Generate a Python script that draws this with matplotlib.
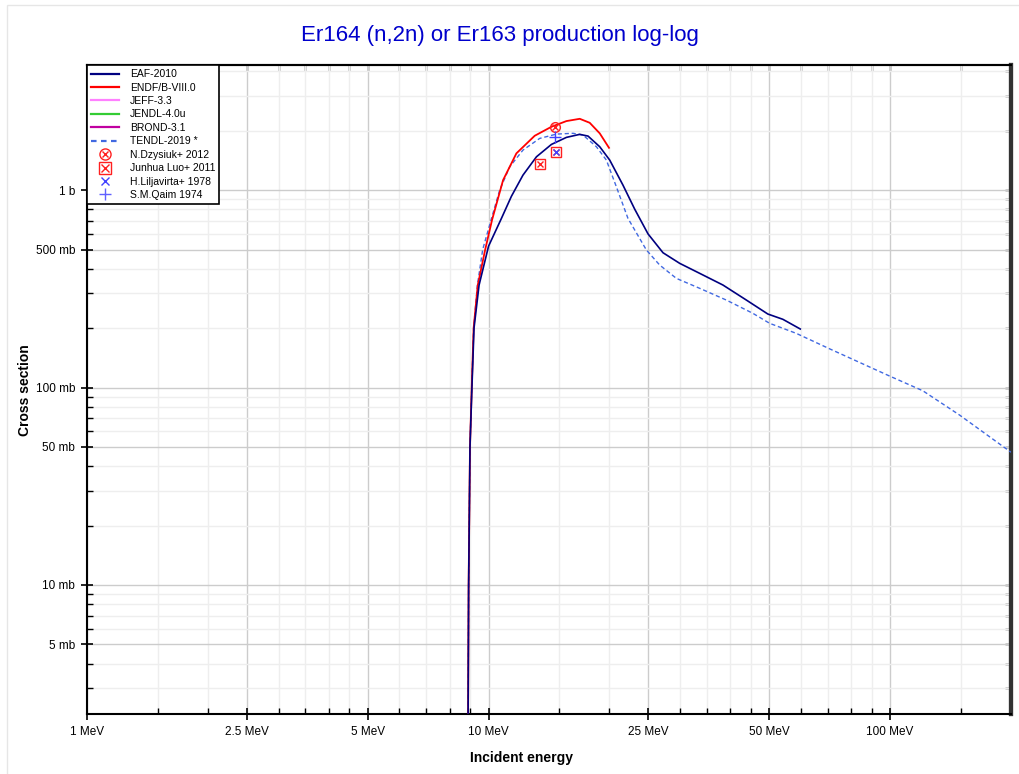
import matplotlib
matplotlib.use('Agg')
from matplotlib import pyplot as plt
from matplotlib.lines import Line2D
from matplotlib.legend_handler import HandlerTuple
from matplotlib.patches import Rectangle
from matplotlib.ticker import FixedLocator, FixedFormatter, NullFormatter

plt.rcParams['font.family'] = ['Liberation Sans', 'DejaVu Sans']

# EAF-2010 (energy MeV, cross section b)
eaf_e = [8.88, 8.92, 8.99, 9.09, 9.2, 9.47, 10.0, 10.77, 11.40, 12.18, 13.16, 14.34, 15.63, 16.87,
         17.69, 18.92, 20.03, 21.61, 23.12, 24.95, 27.19, 29.92, 33.55, 38.34, 43.85, 49.6, 54.07, 59.75]
eaf_s = [0.001, 0.010, 0.050, 0.100, 0.2, 0.33, 0.52, 0.72, 0.93, 1.19, 1.474, 1.703, 1.849, 1.915,
         1.877, 1.657, 1.419, 1.060, 0.80, 0.60, 0.4815, 0.4255, 0.3787, 0.3304, 0.2773, 0.2356, 0.2215, 0.1978]

# ENDF/B-VIII.0
endf_e = [8.88, 8.92, 8.99, 9.08, 9.18, 9.4, 9.81, 10.2, 10.87, 11.73, 13.03, 14.34, 15.63, 16.87,
          17.86, 18.92, 19.95]
endf_s = [0.001, 0.010, 0.050, 0.100, 0.2, 0.33, 0.5, 0.705, 1.124, 1.534, 1.884, 2.092, 2.236, 2.296,
          2.192, 1.937, 1.637]

# TENDL-2019
tendl_e = [8.88, 8.92, 8.99, 9.08, 9.18, 9.38, 9.67, 10.17, 10.66, 11.29, 12.18, 13.41, 14.76, 16.23,
           17.19, 18.56, 19.65, 20.81, 22.24, 24.72, 26.68, 29.36, 33.55, 39.09, 45.53, 50.11, 58.4,
           70.68, 74.8, 99.7, 120.6, 148.8, 200.0]
tendl_s = [0.001, 0.010, 0.050, 0.100, 0.2, 0.33, 0.5, 0.719, 1.0, 1.312, 1.594, 1.827, 1.921, 1.939,
           1.899, 1.657, 1.419, 1.039, 0.719, 0.497, 0.417, 0.357, 0.318, 0.2773, 0.2375, 0.2114, 0.188,
           0.157, 0.149, 0.1143, 0.0963, 0.0726, 0.0470]

# experiments
dzysiuk_e = [14.67]
dzysiuk_s = [2.077]
luo_e = [13.46, 14.76]
luo_s = [1.354, 1.552]
liljavirta_e = [14.76]
liljavirta_s = [1.56]
qaim_e = [14.64]
qaim_s = [1.862]

xticks = [1, 2.5, 5, 10, 25, 50, 100]
xlabels = ['1 MeV', '2.5 MeV', '5 MeV', '10 MeV', '25 MeV', '50 MeV', '100 MeV']
xminor = [1.5, 2, 3, 3.5, 4, 4.5, 6, 7, 8, 9, 15, 20, 30, 35, 40, 45, 60, 70, 80, 90, 150]
yticks = [0.005, 0.01, 0.05, 0.1, 0.5, 1]
ylabels = ['5 mb', '10 mb', '50 mb', '100 mb', '500 mb', '1 b']
yminor = [m * d for d in [0.001, 0.01, 0.1, 1] for m in [2, 3, 4, 6, 7, 8, 9]]

fig = plt.figure(figsize=(10.2, 7.74), dpi=100)
fig.patches.append(Rectangle((7 / 1020, -0.1), 1.2, 1.1 - 5 / 774, transform=fig.transFigure,
                             fill=False, edgecolor='#e6e6e6', linewidth=1))
ax = fig.add_axes([87 / 1020, 60 / 774, 924 / 1020, 649 / 774])

ax.set_xscale('log')
ax.set_yscale('log')
ax.set_xlim(1, 200)
ax.set_ylim(2.22e-3, 4.3)

ax.xaxis.set_major_locator(FixedLocator(xticks))
ax.xaxis.set_major_formatter(FixedFormatter(xlabels))
ax.xaxis.set_minor_locator(FixedLocator(xminor))
ax.xaxis.set_minor_formatter(NullFormatter())
ax.yaxis.set_major_locator(FixedLocator(yticks))
ax.yaxis.set_major_formatter(FixedFormatter(ylabels))
ax.yaxis.set_minor_locator(FixedLocator(yminor))
ax.yaxis.set_minor_formatter(NullFormatter())

ax.grid(which='major', color='#cccccc', linewidth=1)
ax.grid(which='minor', color='#eeeeee', linewidth=1)
ax.set_axisbelow(True)

ax.tick_params(which='major', direction='inout', length=9, width=1.2, labelsize=8.5, pad=4)
ax.tick_params(which='minor', direction='in', length=4, width=1)
for s in ['left', 'bottom', 'top']:
    ax.spines[s].set_linewidth(1.5)
ax.spines['right'].set_linewidth(3)
ax.spines['right'].set_color('#333333')

# ticks on top and right, pointing inward only
top = ax.secondary_xaxis('top')
top.xaxis.set_major_locator(FixedLocator(xticks))
top.xaxis.set_minor_locator(FixedLocator(xminor))
top.xaxis.set_major_formatter(NullFormatter())
top.xaxis.set_minor_formatter(NullFormatter())
top.tick_params(which='both', direction='in', length=4, width=1)
top.spines['top'].set_linewidth(1.5)
right = ax.secondary_yaxis('right')
right.yaxis.set_major_locator(FixedLocator(yticks))
right.yaxis.set_minor_locator(FixedLocator(yminor))
right.yaxis.set_major_formatter(NullFormatter())
right.yaxis.set_minor_formatter(NullFormatter())
right.tick_params(which='both', direction='in', length=4, width=1)
right.spines['right'].set_linewidth(3)
right.spines['right'].set_color('#333333')

ax.plot(tendl_e, tendl_s, color='#4169e1', linewidth=1, linestyle=(0, (3, 2)), zorder=3)
ax.plot(endf_e, endf_s, color='#ff0000', linewidth=1.3, zorder=4)
ax.plot(eaf_e, eaf_s, color='#000080', linewidth=1.2, zorder=5)

ax.plot(dzysiuk_e, dzysiuk_s, 'o', mfc='none', mec='#ff2020', ms=7, mew=1, zorder=6)
ax.plot(dzysiuk_e, dzysiuk_s, 'x', color='#ff2020', ms=4.5, mew=1, zorder=6)
ax.plot(luo_e, luo_s, 's', mfc='none', mec='#ff2020', ms=6.5, mew=1, zorder=6)
ax.plot(luo_e, luo_s, 'x', color='#ff2020', ms=5, mew=1, zorder=6)
ax.plot(liljavirta_e, liljavirta_s, 'x', color='#4040ff', ms=5, mew=1, zorder=7)
ax.plot(qaim_e, qaim_s, '+', color='#4040ff', ms=8, mew=1, zorder=7)

handles = [
    Line2D([], [], color='#000080', lw=1.6),
    Line2D([], [], color='#ff0000', lw=1.6),
    Line2D([], [], color='#ff80ff', lw=1.6),
    Line2D([], [], color='#33cc33', lw=1.6),
    Line2D([], [], color='#c000a0', lw=1.6),
    Line2D([], [], color='#4169e1', lw=1.6, linestyle=(0, (2.5, 2))),
    (Line2D([], [], marker='o', ls='none', mfc='none', mec='#ff2020', ms=8, mew=1),
     Line2D([], [], marker='x', ls='none', color='#ff2020', ms=5, mew=1)),
    (Line2D([], [], marker='s', ls='none', mfc='none', mec='#ff2020', ms=8, mew=1),
     Line2D([], [], marker='x', ls='none', color='#ff2020', ms=6, mew=1)),
    Line2D([], [], marker='x', ls='none', color='#4040ff', ms=6, mew=1),
    Line2D([], [], marker='+', ls='none', color='#6060ff', ms=9, mew=1),
]
labels = ['EAF-2010', 'ENDF/B-VIII.0', 'JEFF-3.3', 'JENDL-4.0u', 'BROND-3.1', 'TENDL-2019 *',
          'N.Dzysiuk+ 2012', 'Junhua Luo+ 2011', 'H.Liljavirta+ 1978', 'S.M.Qaim 1974']
leg = ax.legend(handles, labels, loc='upper left', bbox_to_anchor=(0, 1), borderaxespad=0,
                fontsize=7.5, handlelength=2.7, handletextpad=1.0, labelspacing=0.33,
                borderpad=0.4, fancybox=False, framealpha=1, edgecolor='black',
                handler_map={tuple: HandlerTuple(ndivide=1)})
leg.get_frame().set_linewidth(1.2)
leg.set_zorder(10)

fig.text(500 / 1020, 1 - 35 / 774, 'Er164 (n,2n) or Er163 production log-log', color='#0000cc',
         fontsize=16, ha='center', va='center')
fig.text(522 / 1020, 1 - 758 / 774, 'Incident energy', fontsize=10, fontweight='bold',
         ha='center', va='center')
fig.text(25 / 1020, 1 - 390 / 774, 'Cross section', fontsize=10, fontweight='bold',
         rotation=90, ha='center', va='center')

fig.savefig('out.png', dpi=100)
